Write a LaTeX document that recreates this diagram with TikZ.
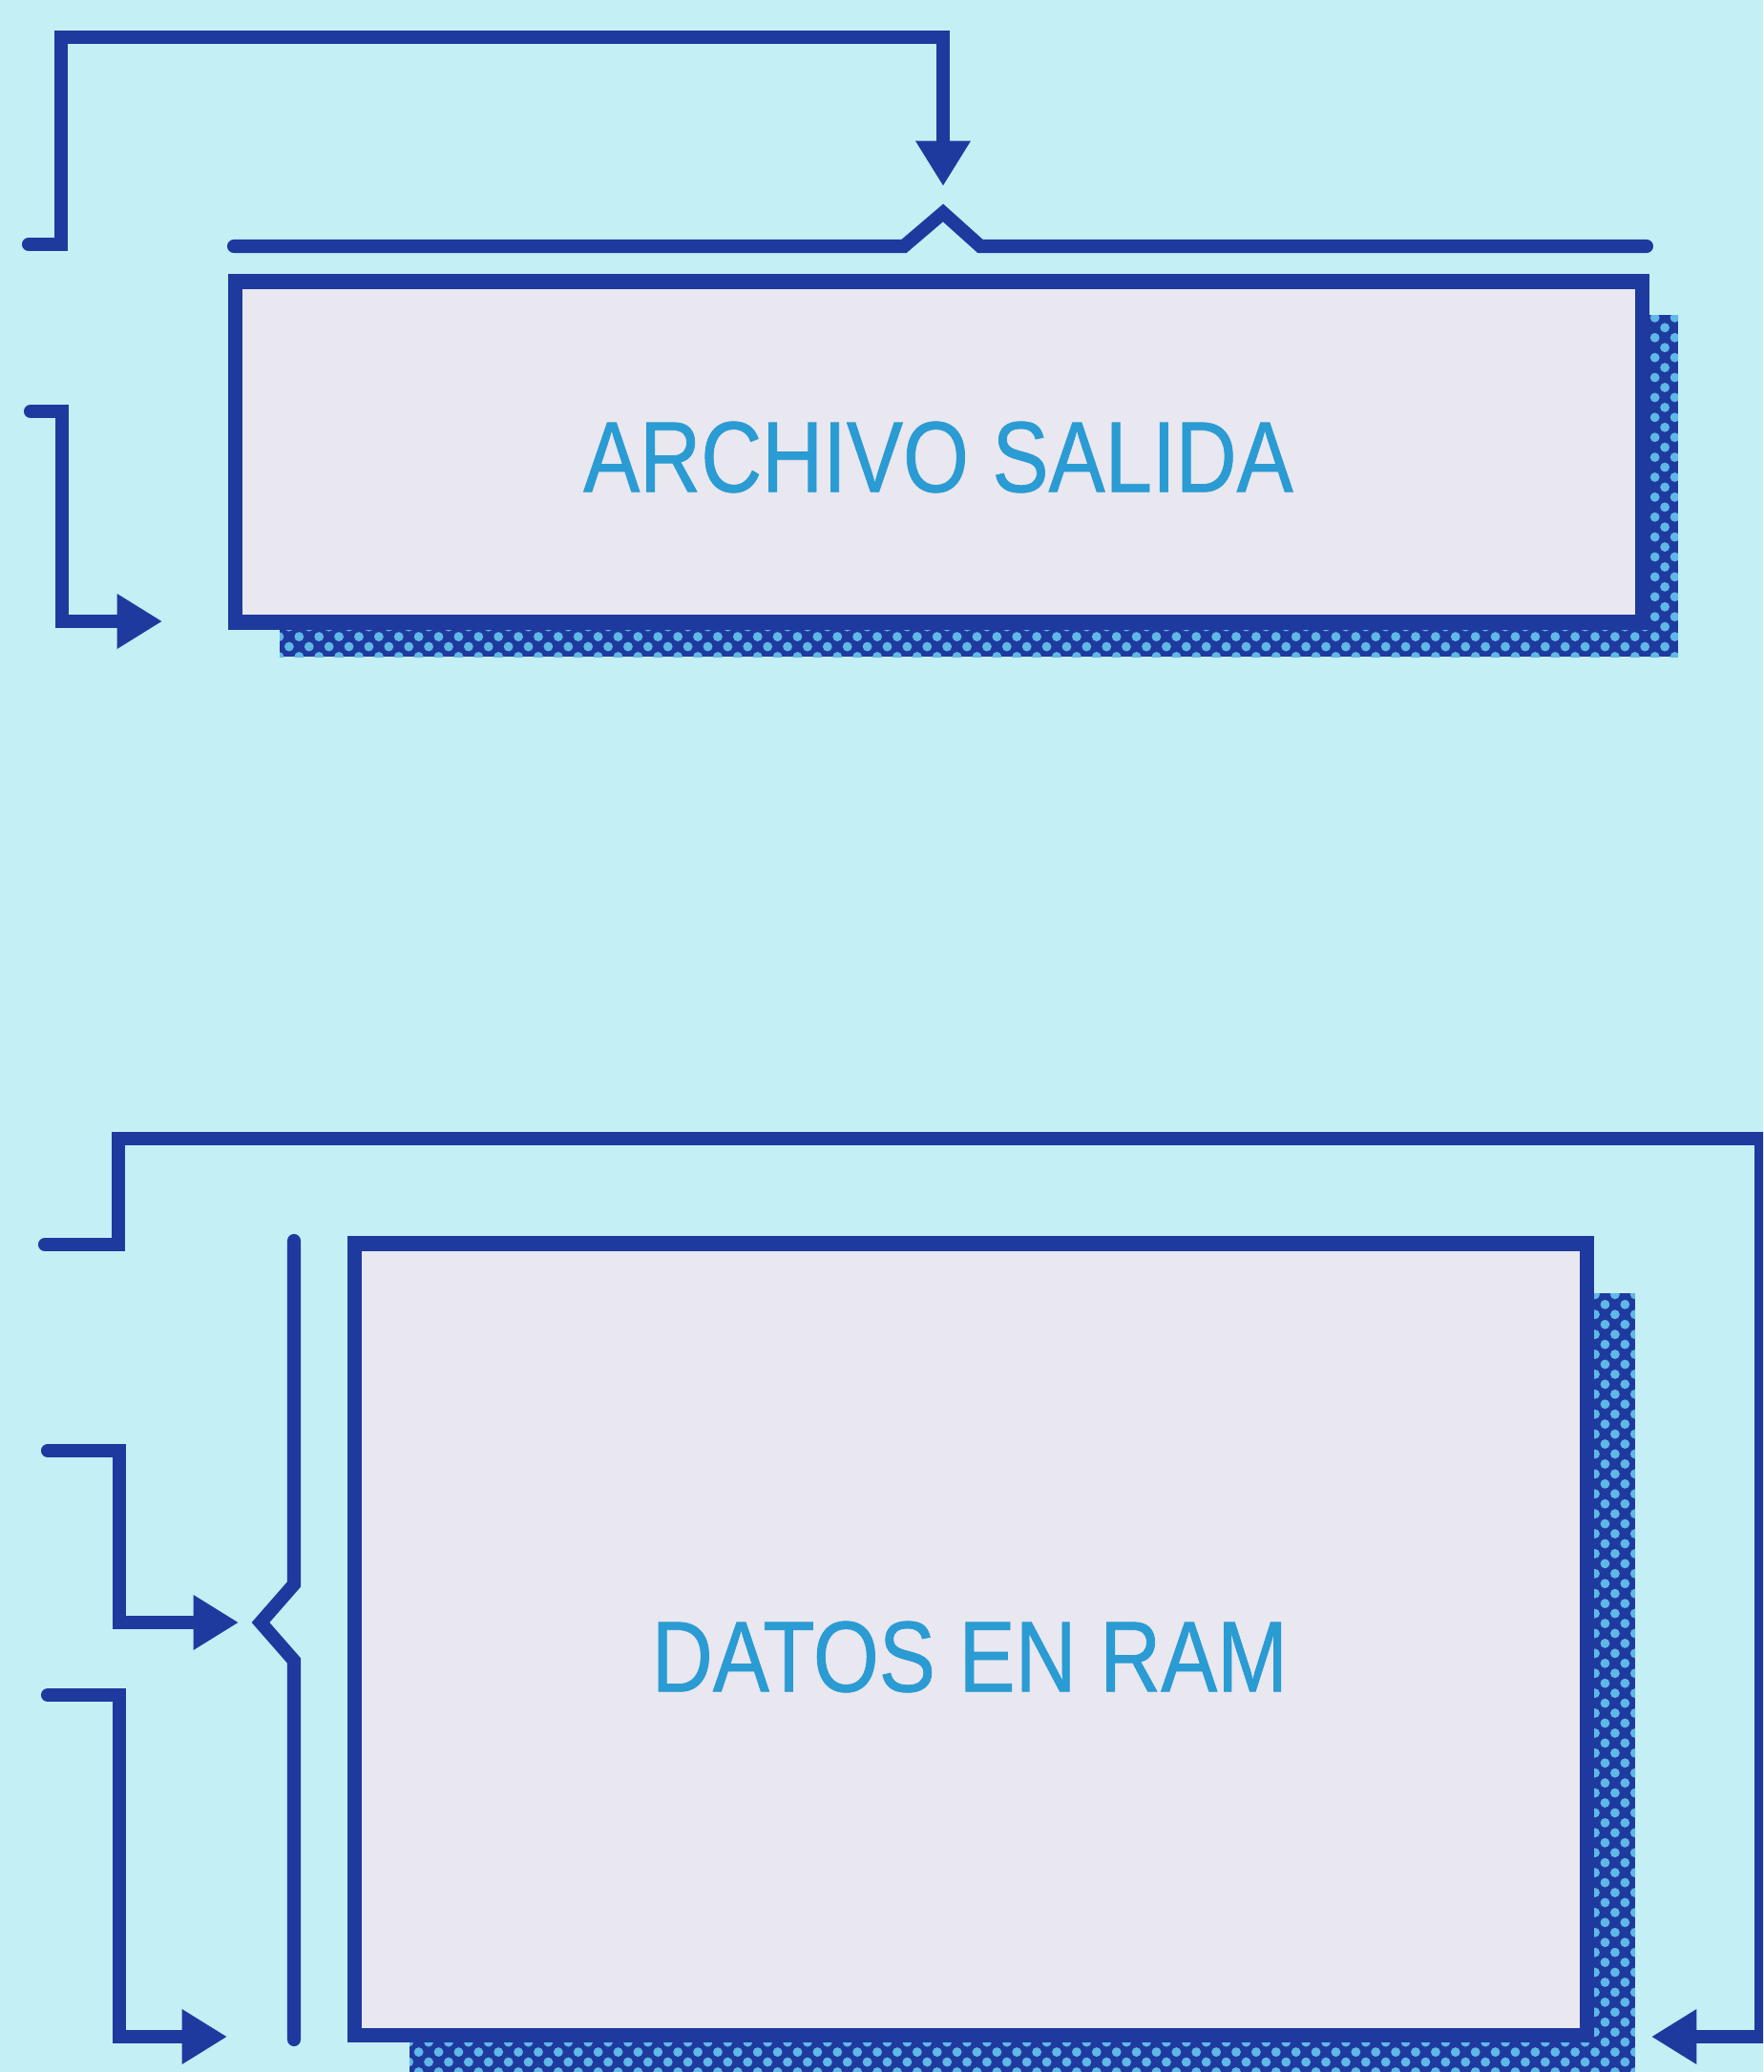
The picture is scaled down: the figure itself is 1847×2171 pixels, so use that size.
\documentclass[tikz,border=0pt]{standalone}
\usepackage{fontspec}
\newfontfamily\lblfont[FakeStretch=0.84,FakeBold=0.7]{Liberation Sans}
\usetikzlibrary{arrows.meta,patterns.meta}
\definecolor{bg}{HTML}{C4EFF5}
\definecolor{ink}{HTML}{1F3A9E}
\definecolor{paper}{HTML}{E9E7EF}
\definecolor{txt}{HTML}{2A9BD3}
\definecolor{dotc}{HTML}{5FB8E6}
\begin{document}
\begin{tikzpicture}[x=0.01cm,y=-0.01cm,
  wire/.style={draw=ink,line width=4pt,line cap=round,line join=miter},
  arrowwire/.style={wire,-{Triangle[width=15.5pt,length=13.5pt]}},
  box/.style={draw=ink,fill=paper,line width=4.4pt,rectangle,inner sep=0pt},
  shadebase/.style={fill=ink},
  shadedots/.style={pattern={Dots[radius=1.4pt,distance=4.2pt,angle=45]},pattern color=dotc},
  lbl/.style={text=txt,font=\lblfont\fontsize{30}{36}\selectfont,inner sep=0pt}
]
\useasboundingbox (0,0) rectangle (1847,2171);
\clip (0,0) rectangle (1847,2171);
\fill[bg] (0,0) rectangle (1847,2171);

% ---------- upper part ----------
\fill[shadebase] (293,330) rectangle (1758,688);
\fill[shadedots] (293,330) rectangle (1758,688);
\node[box,minimum width=14.73cm,minimum height=3.57cm] (b1) at (983.5,473.5) {};
\node[lbl] (t1) at (983,479) {ARCHIVO SALIDA};

\draw[wire] (245,258) -- (947,258) -- (988,223) -- (1027,258) -- (1725,258);

\coordinate (s1) at (30,256);
\coordinate (a1) at (988,195);
\draw[arrowwire] (s1) -| (64,39) -| (a1);

\coordinate (s2) at (32,431);
\coordinate (a2) at (170,651);
\draw[arrowwire] (s2) -- (65,431) |- (a2);

% ---------- lower part ----------
\fill[shadebase] (429,1355) rectangle (1713,2200);
\fill[shadedots] (429,1355) rectangle (1713,2200);
\node[box,minimum width=12.90cm,minimum height=8.29cm] (b2) at (1017,1717.5) {};
\node[lbl] (t2) at (1016,1736) {DATOS EN RAM};

\draw[wire] (308,1300) -- (308,1660) -- (273,1700) -- (308,1740) -- (308,2137);

\coordinate (s3) at (47,1304);
\coordinate (a3) at (1730,2134);
\draw[arrowwire] (s3) -- (124,1304) |- (1845,1193) |- (a3);

\coordinate (s4) at (50,1520);
\coordinate (a4) at (250,1700);
\draw[arrowwire] (s4) -- (125,1520) |- (a4);

\coordinate (s5) at (50,1776);
\coordinate (a5) at (238,2134);
\draw[arrowwire] (s5) -- (125,1776) |- (a5);
\end{tikzpicture}
\end{document}
